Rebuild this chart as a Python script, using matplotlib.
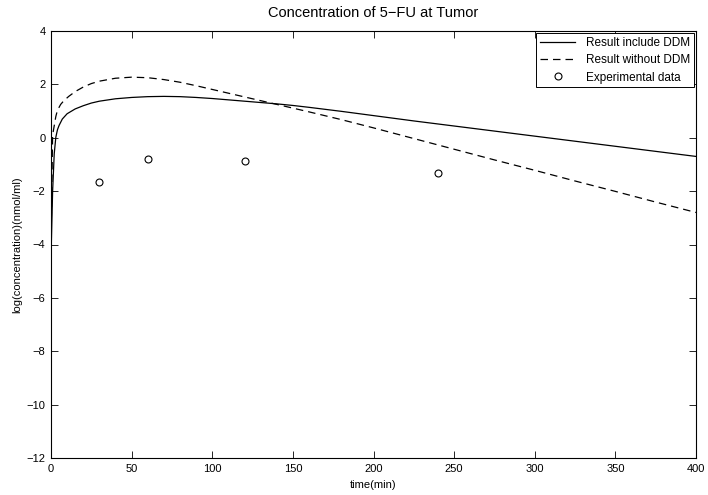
import matplotlib
matplotlib.use("Agg")
import matplotlib.pyplot as plt

plt.rcParams['font.family'] = ['Liberation Sans', 'DejaVu Sans']

# model output with the DDM term (time in min, log concentration)
t_ddm = [0, 1, 2, 3, 4, 5, 7, 10, 15, 20, 25, 30, 40, 50, 60, 70, 80, 90,
         100, 110, 120, 130, 140, 150, 160, 180, 200, 225, 250, 275, 300,
         325, 350, 375, 400]
y_ddm = [-4.5, -2.0, -0.6, 0.02, 0.3, 0.46, 0.7, 0.9, 1.08, 1.2, 1.3, 1.37,
         1.46, 1.51, 1.54, 1.55, 1.54, 1.51, 1.47, 1.42, 1.37, 1.32, 1.27,
         1.21, 1.14, 0.99, 0.83, 0.63, 0.44, 0.25, 0.06, -0.13, -0.32,
         -0.51, -0.70]

# model output without the DDM term
t_no_ddm = [0, 1, 2, 3, 4, 6, 8, 11, 15, 20, 25, 30, 40, 50, 60, 70, 80, 90,
            100, 110, 120, 130, 140, 150, 160, 180, 200, 225, 250, 275, 300,
            325, 350, 375, 400]
y_no_ddm = [-4.0, 0.1, 0.45, 0.8, 1.03, 1.25, 1.39, 1.55, 1.73, 1.9, 2.03,
            2.12, 2.23, 2.27, 2.25, 2.18, 2.08, 1.95, 1.81, 1.67, 1.53, 1.39,
            1.25, 1.11, 0.97, 0.68, 0.37, -0.03, -0.43, -0.83, -1.22, -1.62,
            -2.01, -2.41, -2.80]

# measured tumour concentrations
t_exp = [30, 60, 120, 240]
y_exp = [-1.67, -0.80, -0.87, -1.31]

fig = plt.figure(figsize=(7.08, 4.95), dpi=100)
ax = fig.add_axes([51 / 708, 1 - 458 / 495, 645 / 708, 427 / 495])

ax.plot(t_ddm, y_ddm, '-', color='black', lw=0.9, label='Result include DDM')
ax.plot(t_no_ddm, y_no_ddm, '--', color='black', lw=0.9, dashes=(6, 4),
        label='Result without DDM')
ax.plot(t_exp, y_exp, 'o', mfc='none', mec='black', ms=5, mew=0.8,
        label='Experimental data')

ax.set_xlim(0, 400)
ax.set_ylim(-12, 4)
ax.set_xticks(range(0, 401, 50))
ax.set_yticks(range(-12, 5, 2))
ax.tick_params(direction='in', top=True, right=True, length=5, width=0.6,
               labelsize=8, pad=4)
for s in ax.spines.values():
    s.set_linewidth(0.8)

ax.set_title('Concentration of 5\u2212FU at Tumor', fontsize=10.5, pad=10)
ax.set_xlabel('time(min)', fontsize=8, labelpad=5)
ax.set_ylabel('log(concentration)(nmol/ml)', fontsize=8, labelpad=3)

leg = ax.legend(loc='upper right', fontsize=8.5, fancybox=False,
                edgecolor='black', framealpha=1, borderaxespad=0.2,
                handlelength=3.0, labelspacing=0.45, borderpad=0.3,
                handletextpad=0.9)
leg.get_frame().set_linewidth(0.7)

fig.savefig('out.png', dpi=100)
